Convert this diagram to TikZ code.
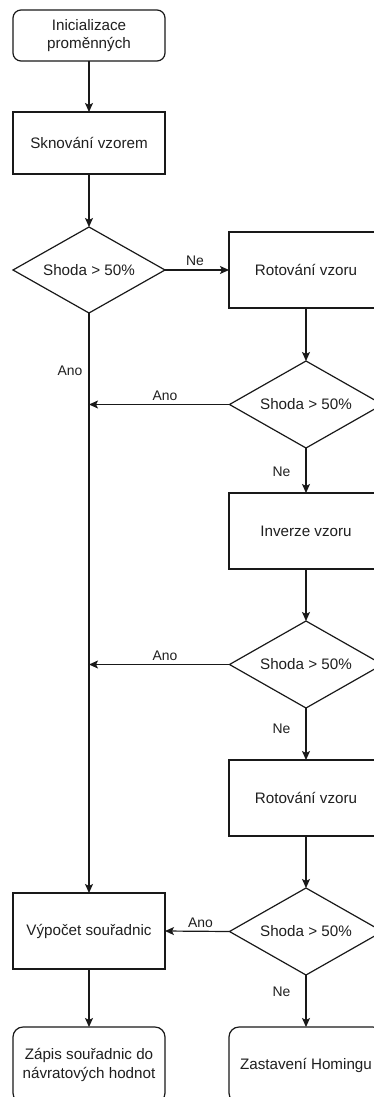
\documentclass[tikz,border=0pt]{standalone}
\usepackage{fontspec}
\setmainfont{Liberation Sans}
\usetikzlibrary{arrows.meta,shapes.geometric}
\begin{document}
\begin{tikzpicture}[x=1pt,y=-1pt,
  every node/.style={font=\fontsize{15.2}{18.5}\selectfont, text=black!88},
  shape base/.style={draw=black!90, line width=1.2pt, fill=white, inner sep=0pt, outer sep=0pt, align=center},
  box/.style={shape base, rectangle, minimum width=152pt, minimum height=76pt},
  startbox/.style={box, rounded corners=8pt},
  decision/.style={shape base, diamond, aspect=1.75, minimum width=153pt, minimum height=87pt},
  flow/.style={draw=black!90, line width=1.2pt, -{Stealth[length=9pt,width=8pt,inset=2pt]}},
  lbl/.style={font=\fontsize{13.9}{16}\selectfont, text=black!88, inner sep=2pt},
  toplbl/.style={lbl, above, inner sep=3.5pt}
]
\useasboundingbox (0,0) rectangle (374,1097);
\clip (0,0) rectangle (374,1097);

% left column
\node[startbox, minimum height=51pt] (init) at (89,35.5) {Inicializace\\proměnných};
\node[box, minimum height=62pt] (skn) at (89,143) {Sknování vzorem};
\node[decision, minimum width=152pt, minimum height=86pt] (d1) at (89,270) {Shoda > 50\%};
\node[box] (vyp) at (89,931) {Výpočet souřadnic};
\node[startbox, rounded corners=10pt] (zap) at (89,1065) {Zápis souřadnic do\\návratových hodnot};

% right column
\node[box, minimum width=154pt] (r1) at (306,270) {Rotování vzoru};
\node[decision] (d2) at (306,404.5) {Shoda > 50\%};
\node[box, minimum width=154pt] (inv) at (306,531) {Inverze vzoru};
\node[decision] (d3) at (306,664.5) {Shoda > 50\%};
\node[box, minimum width=154pt] (r2) at (306,798) {Rotování vzoru};
\node[decision] (d4) at (306,931.5) {Shoda > 50\%};
\node[startbox, minimum width=154pt, rounded corners=10pt] (zas) at (306,1065) {Zastavení Homingu};

% junctions on the main vertical line
\coordinate (j2) at (89,404.5);
\coordinate (j3) at (89,664.5);

% connectors
\draw[flow] (init.south) -- (skn.north);
\draw[flow] (skn.south) -- (d1.north);
\draw[flow] (d1.east) -- node[toplbl, pos=0.47] {Ne} (r1.west);
\draw[flow] (d1.south) -- node[lbl, anchor=east, xshift=-4pt, pos=0.1] {Ano} (vyp.north);
\draw[flow] (r1.south) -- (d2.north);
\draw[flow] (d2.west) -- node[toplbl, pos=0.46] {Ano} (j2);
\draw[flow] (d2.south) -- node[lbl, anchor=east, xshift=-13pt, pos=0.53] {Ne} (inv.north);
\draw[flow] (inv.south) -- (d3.north);
\draw[flow] (d3.west) -- node[toplbl, pos=0.46] {Ano} (j3);
\draw[flow] (d3.south) -- node[lbl, anchor=east, xshift=-13pt, pos=0.4] {Ne} (r2.north);
\draw[flow] (r2.south) -- (d4.north);
\draw[flow] (d4.west) -- node[toplbl, pos=0.45] {Ano} (vyp.east);
\draw[flow] (d4.south) -- node[lbl, anchor=east, xshift=-13pt, pos=0.33] {Ne} (zas.north);
\draw[flow] (vyp.south) -- (zap.north);
\end{tikzpicture}
\end{document}
